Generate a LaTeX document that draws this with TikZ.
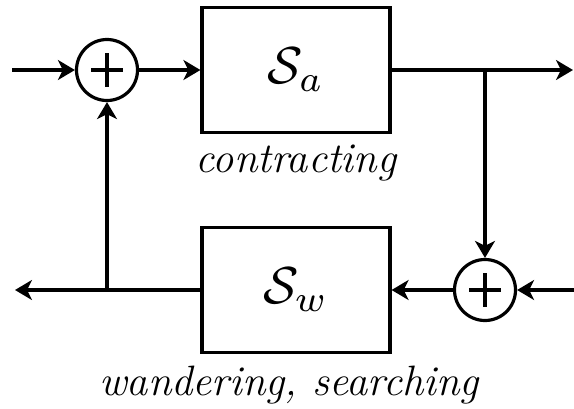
\documentclass[tikz,border=0pt]{standalone}
\usepackage{fontspec}
\usepackage{graphicx}
\usetikzlibrary{arrows.meta}
\begin{document}
\begin{tikzpicture}[x=1pt,y=-1pt,
  line width=3.2pt,
  arr/.style={-{Stealth[length=17pt,width=20pt,inset=5pt]}},
  blockbox/.style={draw,rectangle,minimum width=188pt,minimum height=125pt,inner sep=0pt},
  sumnode/.style={draw,circle,minimum size=61pt,inner sep=0pt},
  caption/.style={anchor=base,inner sep=0pt,font=\fontsize{42.5}{50}\selectfont\itshape},
  plusline/.style={line width=3.2pt}]
\useasboundingbox (0,0) rectangle (574,408);
% nodes
\node[sumnode] (c1) at (107,70) {};
\node[sumnode] (c2) at (485,290) {};
\node[blockbox] (sa) at (296,70) {\scalebox{5.2}{$\mathcal{S}_a$}};
\node[blockbox] (sw) at (296,290) {\scalebox{5.2}{$\mathcal{S}_w$}};
\node[caption] (t1) at (296,172) {contracting};
\node[caption] (t2) at (289,395) {wandering, searching};
% plus signs
\draw[plusline] ([xshift=-16pt]c1.center) -- ([xshift=16pt]c1.center);
\draw[plusline] ([yshift=17pt]c1.center) -- ([yshift=-17pt]c1.center);
\draw[plusline] ([xshift=-16pt]c2.center) -- ([xshift=16pt]c2.center);
\draw[plusline] ([yshift=17pt]c2.center) -- ([yshift=-17pt]c2.center);
% coordinates
\coordinate (in1) at (12,70);
\coordinate (out1) at (573,70);
\coordinate (b1) at (485,70);
\coordinate (in2) at (574,290);
\coordinate (out2) at (15,290);
\coordinate (b2) at (107,290);
% connectors
\draw[arr] (in1) -- (c1.west);
\draw[arr] (c1.east) -- (sa.west);
\draw[arr] (sa.east) -- (out1);
\draw[arr] (b1) -- (c2.north);
\draw[arr] (in2) -- (c2.east);
\draw[arr] (c2.west) -- (sw.east);
\draw[arr] (sw.west) -- (out2);
\draw[arr] (b2) -- (c1.south);
\end{tikzpicture}
\end{document}
